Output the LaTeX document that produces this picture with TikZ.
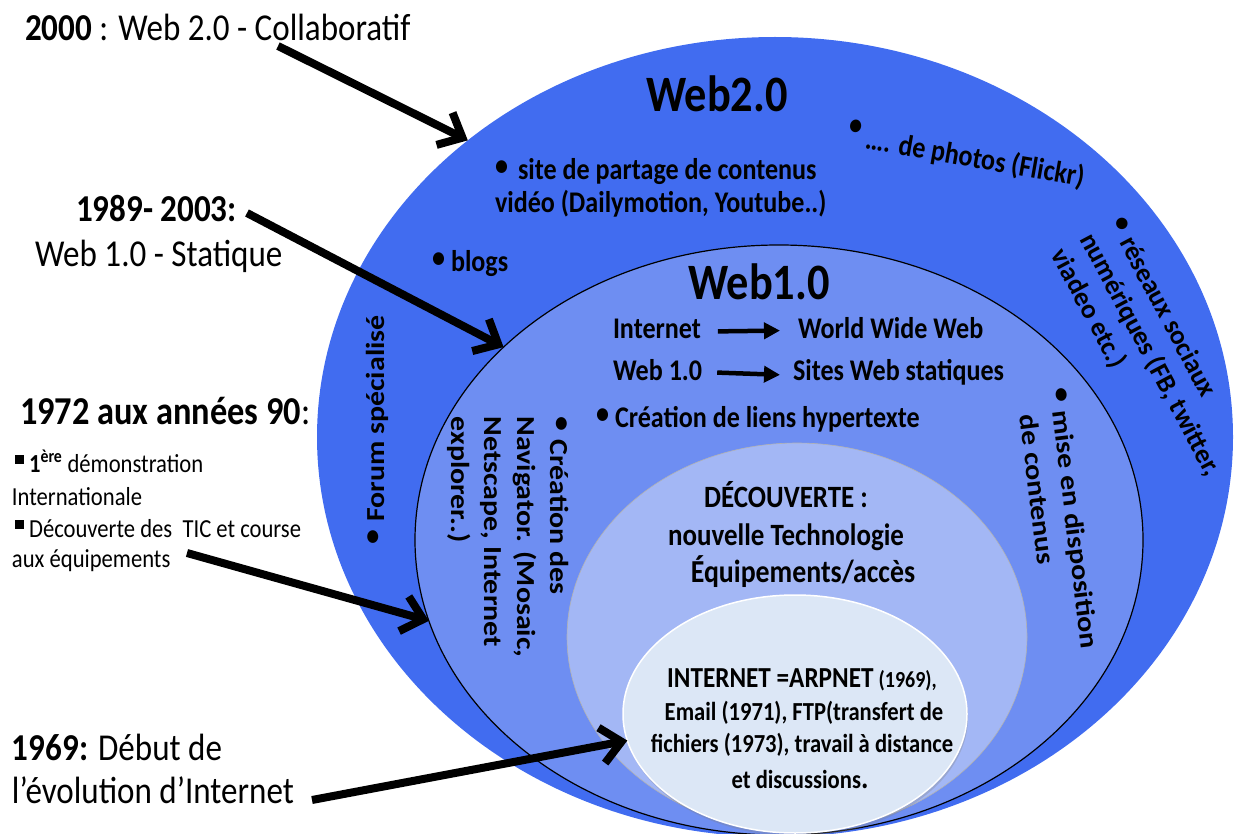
\documentclass[tikz,border=0pt]{standalone}
\usepackage{fontspec}
\setmainfont{Carlito}[FakeStretch=0.87]
\newfontfamily\vfont{Carlito}[FakeStretch=1.15]
\newfontfamily\dfont{Carlito}
\usetikzlibrary{shapes.geometric,arrows.meta,shadows}
\definecolor{webtwo}{RGB}{65,108,240}
\definecolor{webone}{RGB}{110,142,242}
\definecolor{decouv}{RGB}{163,183,245}
\definecolor{innerc}{RGB}{220,231,246}
\newcommand{\fsz}[2]{\fontsize{#1}{#2}\selectfont}
\newcommand{\sqbul}{\raisebox{8pt}{\rule{9pt}{9pt}}}
\newcommand{\bul}{\raisebox{4pt}{\textbullet}}
\begin{document}
\begin{tikzpicture}[x=1pt,y=-1pt,
  txt/.style={inner sep=0pt,outer sep=0pt,text=black},
  big/.style={txt,font=\fsz{38}{45}},
  small/.style={txt,font=\fsz{26}{31}},
  ann/.style={txt,font=\fsz{30}{35}\bfseries},
  vann/.style={txt,font=\vfont\fsz{26}{33}\bfseries},
  dann/.style={txt,font=\dfont\fsz{27}{33}\bfseries},
  dec/.style={txt,font=\fsz{31}{37}\bfseries},
  inn/.style={txt,font=\fsz{26}{31}\bfseries},
  ttl/.style={txt,font=\fsz{51}{60}\bfseries},
  ring/.style={ellipse,inner sep=0pt,outer sep=0pt},
  bigarrow/.style={line width=8pt,-{Straight Barb[length=20pt,width=36pt]}},
  smallarrow/.style={line width=4.5pt,-{Triangle[length=16pt,width=16pt]}}]
\useasboundingbox (0,0) rectangle (1234,834);
\clip (0,0) rectangle (1234,834);

% nested ellipses
\node[ring,fill=webtwo,minimum width=916pt,minimum height=800pt] (web2) at (775,437) {};
\node[ring,fill=webone,draw=black,line width=1.2pt,minimum width=728pt,minimum height=590pt] (web1) at (779,540) {};
\node[ring,fill=decouv,draw=gray!60,line width=0.6pt,minimum width=460pt,minimum height=388pt] (disc) at (797,637) {};
\node[ring,fill=innerc,draw=white,line width=1.5pt,minimum width=344pt,minimum height=238pt,
      drop shadow={shadow xshift=1pt,shadow yshift=-3pt,opacity=0.3}] (inner) at (795,714) {};

% left labels
\node[big,anchor=base west] (l2000) at (25,41) {\textbf{2000} : Web 2.0 - Collaboratif};
\node[big,anchor=base west] (l1989) at (76,222) {\textbf{1989- 2003:}};
\node[big,anchor=base west] (lstat) at (35,267) {Web 1.0 - Statique};
\node[big,anchor=base west,font=\fsz{39.5}{46}] (l1972) at (20,424) {\textbf{1972 aux années 90}:};
\node[small,anchor=base west] (lb1) at (15,472) {\sqbul\ \textbf{1\textsuperscript{ère}} démonstration};
\node[small,anchor=base west] (lb2) at (12,505) {Internationale};
\node[small,anchor=base west] (lb3) at (15,537) {\sqbul\ Découverte des\ \ TIC et course};
\node[small,anchor=base west] (lb4) at (12,567) {aux équipements};
\node[big,anchor=base west] (l1969) at (12,760) {\textbf{1969:} Début de};
\node[big,anchor=base west] (levol) at (12,803) {l’évolution d’Internet};

% Web 2.0 ring
\node[ttl,anchor=base] (t2) at (717,112) {Web2.0};
\node[ann,anchor=base west] (site1) at (495,180) {\bul\hspace{10pt}site de partage de contenus};
\node[ann,anchor=base west] (site2) at (495,213) {vidéo (Dailymotion, Youtube..)};
\node[ann,anchor=base west] (blogs) at (432,272) {\bul\hspace{6pt}blogs};
\node[ann,rotate=-10] (photos) at (966,155) {\raisebox{12pt}{\textbullet}\hspace{6pt}…. de photos (Flickr)};
\node[dann,rotate=-62,align=left] (reseaux) at (1150,355) {\bul\hspace{8pt}réseaux sociaux\\numériques (FB, twitter,\\viadeo etc.)};
\node[vann,rotate=90] (forum) at (377,430) {\bul\hspace{8pt}Forum spécialisé};

% Web 1.0 ring
\node[ttl,anchor=base] (t1) at (759,300) {Web1.0};
\node[ann,anchor=base west] (inet) at (613,338) {Internet};
\node[ann,anchor=base west] (www) at (798,338) {World Wide Web};
\node[ann,anchor=base west] (w10) at (613,380) {Web 1.0};
\node[ann,anchor=base west] (sites) at (793,380) {Sites Web statiques};
\node[ann,anchor=base west] (liens) at (596,427) {\bul\hspace{6pt}Création de liens hypertexte};
\node[vann,rotate=-90,align=left] (navig) at (508,537) {\bul\hspace{8pt}Création des\\Navigator. (Mosaic,\\Netscape, Internet\\explorer..)};
\node[vann,rotate=-83,align=left] (mise) at (1058,520) {\bul\hspace{8pt}mise en disposition\\\phantom{\textbullet}\hspace{8pt}de contenus};

% Discovery ring
\node[dec,anchor=base] (d1) at (786,507) {DÉCOUVERTE :};
\node[dec,anchor=base] (d2) at (786,545) {nouvelle Technologie};
\node[dec,anchor=base,font=\fsz{32}{37}\bfseries] (d3) at (803,582) {Équipements/accès};

% inner ellipse
\node[inn,anchor=base] (i1) at (802,687) {{\fsz{29}{31}INTERNET =ARPNET} {\fsz{23}{26}(1969),}};
\node[inn,anchor=base] (i2) at (804,720) {Email (1971), FTP(transfert de};
\node[inn,anchor=base] (i3) at (802,752) {fichiers (1973), travail à distance};
\node[inn,anchor=base] (i4) at (800,788) {et discussions{\fsz{32}{31}.}};

% inner arrows
\draw[smallarrow] ([xshift=17pt,yshift=-3pt]inet.east) -- ([xshift=-18pt,yshift=-3pt]www.west);
\draw[smallarrow] ([xshift=15pt,yshift=-3pt]w10.east) -- ([xshift=-13pt,yshift=-3pt]sites.west);

% big arrows
\coordinate (s1) at (278,46);
\coordinate (s2) at (247,213);
\coordinate (s3) at (187,553);
\coordinate (s4) at (312,800);
\draw[bigarrow] (s1) -- (web2.136);
\draw[bigarrow] (s2) -- (web1.145);
\draw[bigarrow] (s3) -- (web1.193);
\draw[bigarrow] (s4) -- (inner.189);
\end{tikzpicture}
\end{document}
